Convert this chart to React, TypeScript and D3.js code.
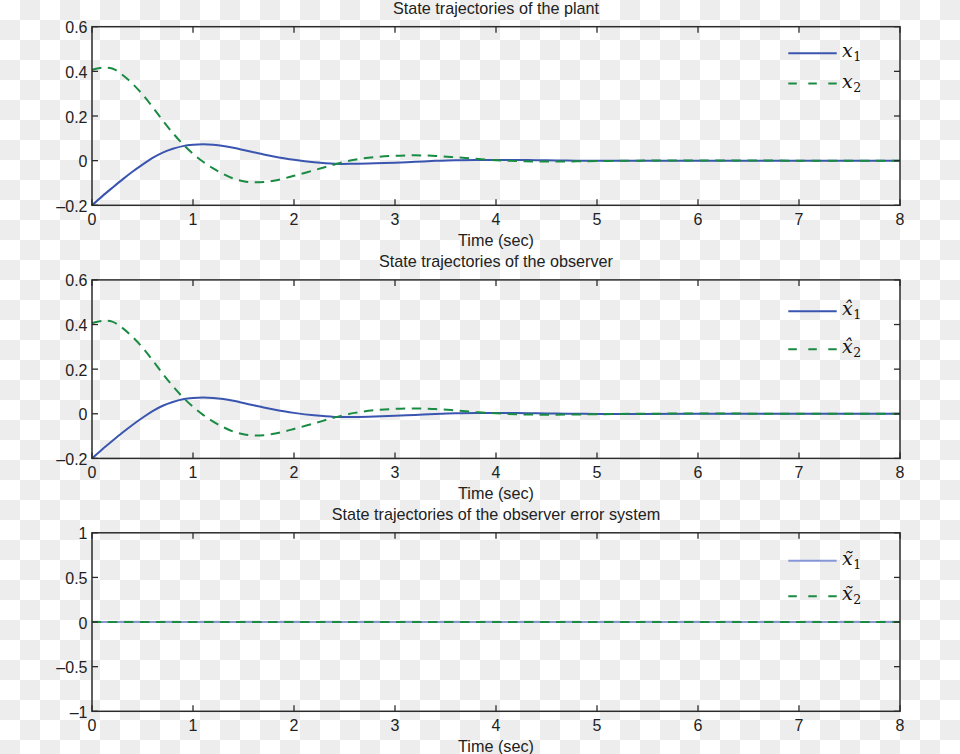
import React from "react";
import * as d3 from "d3";

// ---- data ----
const tPlant = [0, 0.1, 0.2, 0.3, 0.4, 0.5, 0.6, 0.7, 0.8, 0.9, 1.0, 1.1, 1.2, 1.3, 1.4, 1.5, 1.6, 1.7, 1.8, 1.9, 2.0, 2.2, 2.4, 2.6, 2.8, 3.0, 3.2, 3.4, 3.6, 3.8, 4.0, 4.2, 4.4, 4.6, 4.8, 5.0, 5.4, 6.0, 7.0, 8.0];
const x1Plant = [-0.2, -0.16, -0.122, -0.085, -0.05, -0.018, 0.012, 0.036, 0.053, 0.065, 0.071, 0.073, 0.071, 0.066, 0.058, 0.048, 0.038, 0.028, 0.019, 0.011, 0.004, -0.007, -0.014, -0.014, -0.012, -0.009, -0.005, -0.001, 0.002, 0.003, 0.003, 0.003, 0.002, 0.001, 0.0, -0.001, -0.001, 0.0, 0.0, 0.0];
const x2Plant = [0.407, 0.416, 0.413, 0.385, 0.345, 0.297, 0.24, 0.18, 0.124, 0.074, 0.031, -0.005, -0.035, -0.06, -0.08, -0.092, -0.097, -0.096, -0.09, -0.08, -0.068, -0.043, -0.017, 0.004, 0.016, 0.022, 0.024, 0.021, 0.015, 0.008, 0.002, -0.002, -0.004, -0.004, -0.003, -0.002, 0.0, 0.001, 0.0, 0.0];
const x1Obs = [...x1Plant];
const x2Obs = [...x2Plant];
const tErr = [0, 2, 4, 6, 8];
const e1Err = [0, 0, 0, 0, 0];
const e2Err = [0, 0, 0, 0, 0];

const xTicks = [0, 1, 2, 3, 4, 5, 6, 7, 8];
const yTicksState = [-0.2, 0, 0.2, 0.4, 0.6];
const yTicksErr = [-1, -0.5, 0, 0.5, 1];

const titles = [
  "State trajectories of the plant",
  "State trajectories of the observer",
  "State trajectories of the observer error system",
];
const xLabel = "Time (sec)";

const BLUE = "#3a55b0";
const BLUE_LIGHT = "#8797d6";
const GREEN = "#1a8b42";
const AXIS = "#2b2b2b";
const TEXT = "#222";
const SANS = "'Liberation Sans', Helvetica, Arial, sans-serif";
const SERIF = "'DejaVu Serif', 'Liberation Serif', serif";

type Panel = {
  top: number;
  bottom: number;
  yDomain: [number, number];
  yTicks: number[];
  title: string;
  t: number[];
  s1: number[];
  s2: number[];
  accent: string;
  blue: string;
  legendY: [number, number];
};

const X0 = 92;
const X1 = 900;

const panels: Panel[] = [
  { top: 26.7, bottom: 205.3, yDomain: [-0.2, 0.6], yTicks: yTicksState, title: titles[0], t: tPlant, s1: x1Plant, s2: x2Plant, accent: "", blue: BLUE, legendY: [53.3, 83.5] },
  { top: 279.9, bottom: 458.4, yDomain: [-0.2, 0.6], yTicks: yTicksState, title: titles[1], t: tPlant, s1: x1Obs, s2: x2Obs, accent: "\u0302", blue: BLUE, legendY: [311.3, 349.3] },
  { top: 532.8, bottom: 711.3, yDomain: [-1, 1], yTicks: yTicksErr, title: titles[2], t: tErr, s1: e1Err, s2: e2Err, accent: "\u0303", blue: BLUE_LIGHT, legendY: [560.7, 596.2] },
];

function fmt(v: number) {
  const s = String(v);
  return v < 0 ? "\u2013" + s.slice(1) : s;
}

function LegendLabel({ x, y, sub, accent }: { x: number; y: number; sub: string; accent: string }) {
  return (
    <text x={x} y={y + 4} fontFamily={SERIF} fill="#111">
      <tspan fontStyle="italic" fontSize={19}>{"x" + accent}</tspan>
      <tspan fontSize={12.5} dx={0.5} dy={4}>{sub}</tspan>
    </text>
  );
}

function PanelView({ p }: { p: Panel }) {
  const xs = d3.scaleLinear().domain([0, 8]).range([X0, X1]);
  const ys = d3.scaleLinear().domain(p.yDomain).range([p.bottom, p.top]);
  const line = d3
    .line<number>()
    .x((_, i) => xs(p.t[i]))
    .y((d) => ys(d))
    .curve(d3.curveCatmullRom.alpha(0.5));
  const tick = 6;
  const cx = (X0 + X1) / 2;
  return (
    <g>
      <text x={cx} y={p.top - 12.5} textAnchor="middle" fontFamily={SANS} fontSize={16.2} fill={TEXT}>
        {p.title}
      </text>
      <path d={line(p.s1) ?? ""} fill="none" stroke={p.blue} strokeWidth={2} />
      <path d={line(p.s2) ?? ""} fill="none" stroke={GREEN} strokeWidth={2} strokeDasharray="9.5,6.5" />
      <rect x={X0} y={p.top} width={X1 - X0} height={p.bottom - p.top} fill="none" stroke={AXIS} strokeWidth={1.5} />
      {xTicks.map((v) => (
        <g key={"x" + v}>
          <line x1={xs(v)} x2={xs(v)} y1={p.bottom} y2={p.bottom - tick} stroke={AXIS} strokeWidth={1.3} />
          <line x1={xs(v)} x2={xs(v)} y1={p.top} y2={p.top + tick} stroke={AXIS} strokeWidth={1.3} />
          <text x={xs(v)} y={p.bottom + 20} textAnchor="middle" fontFamily={SANS} fontSize={16} fill={TEXT}>
            {String(v)}
          </text>
        </g>
      ))}
      {p.yTicks.map((v) => (
        <g key={"y" + v}>
          <line x1={X0} x2={X0 + tick} y1={ys(v)} y2={ys(v)} stroke={AXIS} strokeWidth={1.3} />
          <line x1={X1} x2={X1 - tick} y1={ys(v)} y2={ys(v)} stroke={AXIS} strokeWidth={1.3} />
          <text x={87.5} y={ys(v) + 6.5} textAnchor="end" fontFamily={SANS} fontSize={16} fill={TEXT}>
            {fmt(v)}
          </text>
        </g>
      ))}
      <text x={cx} y={p.bottom + 40.5} textAnchor="middle" fontFamily={SANS} fontSize={16.2} fill={TEXT}>
        {xLabel}
      </text>
      <line x1={788.3} x2={836.7} y1={p.legendY[0]} y2={p.legendY[0]} stroke={p.blue} strokeWidth={2} />
      <line x1={788.3} x2={836.7} y1={p.legendY[1]} y2={p.legendY[1]} stroke={GREEN} strokeWidth={2} strokeDasharray="8.5,11.5" />
      <LegendLabel x={842} y={p.legendY[0]} sub="1" accent={p.accent} />
      <LegendLabel x={842} y={p.legendY[1]} sub="2" accent={p.accent} />
    </g>
  );
}

export default function App() {
  return (
    <svg width={960} height={754} style={{ position: "absolute", left: 0, top: 0, display: "block" }}>
      <defs>
        <pattern id="checker" width={40} height={40} patternUnits="userSpaceOnUse">
          <rect width={40} height={40} fill="#ffffff" />
          <rect x={20} y={0} width={20} height={20} fill="#ededed" />
          <rect x={0} y={20} width={20} height={20} fill="#ededed" />
        </pattern>
      </defs>
      <rect width={960} height={754} fill="url(#checker)" />
      {panels.map((p, i) => (
        <PanelView key={i} p={p} />
      ))}
    </svg>
  );
}
